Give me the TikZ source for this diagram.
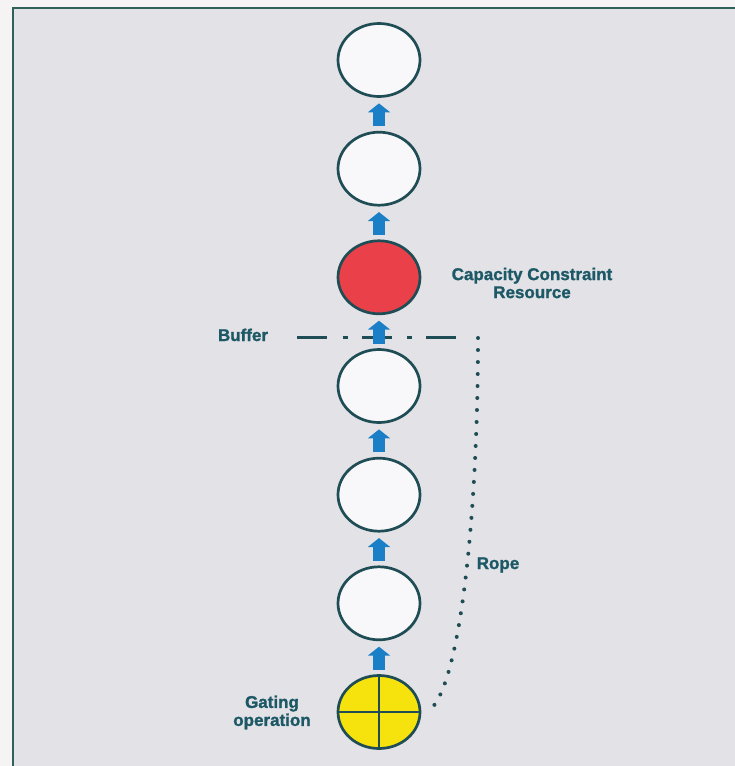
\documentclass[tikz,border=0pt]{standalone}
\usepackage{fontspec}
\setmainfont{Liberation Sans}[BoldFeatures={FakeBold=1.3}]
\usetikzlibrary{arrows.meta,shapes.geometric}
\definecolor{bgout}{HTML}{F6F3F5}
\definecolor{bgin}{HTML}{E3E2E6}
\definecolor{framecol}{HTML}{2E6259}
\definecolor{edgecol}{HTML}{1F4D55}
\definecolor{txtcol}{HTML}{1C5866}
\definecolor{redfill}{HTML}{EA4049}
\definecolor{yellowfill}{HTML}{F6E20C}
\definecolor{bluearrow}{HTML}{1A7FC6}
\definecolor{whitefill}{HTML}{F8F7F9}
\begin{document}
\begin{tikzpicture}[x=1pt,y=-1pt,
  station/.style={ellipse,draw=edgecol,line width=2.7pt,fill=whitefill,
    minimum width=82pt,minimum height=73pt,inner sep=0pt},
  flow/.style={draw=bluearrow,line width=12pt,
    -{Triangle[width=22pt,length=9pt]},shorten <=4.5pt,shorten >=5.5pt},
  lbl/.style={text=txtcol,font=\fontsize{17}{18}\selectfont\bfseries,
    inner sep=0pt,align=center},
  bufferline/.style={draw=edgecol,line width=3pt,
    dash pattern=on 30pt off 15.5pt on 5pt off 14pt},
  ropeline/.style={draw=edgecol,line width=4pt,line cap=round,
    dash pattern=on 0pt off 12pt}]
\useasboundingbox (0,0) rectangle (735,766);
\fill[bgout] (0,0) rectangle (735,766);
\fill[bgin] (13,8) rectangle (735,766);
\draw[framecol,line width=2pt] (13,766) -- (13,8) -- (735,8);

% buffer line (under the arrow)
\coordinate (bufL) at (297,337);
\coordinate (bufR) at (458,337);
\draw[bufferline] (bufL) -- (bufR);

% stations
\node[station] (c1) at (379,60) {};
\node[station] (c2) at (379,168.7) {};
\node[station,fill=redfill] (c3) at (379,277.3) {};
\node[station] (c4) at (379,386) {};
\node[station] (c5) at (379,494.7) {};
\node[station] (c6) at (379,603.3) {};
\node[station,fill=yellowfill] (c7) at (379,712) {};
\draw[edgecol,line width=2.5pt] (c7.north) -- (c7.south) (c7.west) -- (c7.east);

% flow arrows
\draw[flow] (c2.north) -- (c1.south);
\draw[flow] (c3.north) -- (c2.south);
\draw[flow] (c4.north) -- (c3.south);
\draw[flow] (c5.north) -- (c4.south);
\draw[flow] (c6.north) -- (c5.south);
\draw[flow] (c7.north) -- (c6.south);

% rope
\coordinate (ropeTop) at (478,338);
\draw[ropeline] (ropeTop) .. controls (478,500) and (462,690) .. ([xshift=6pt]c7.east);

% labels
\node[lbl] (ccr) at (532,283) {Capacity Constraint\\Resource};
\node[lbl,anchor=base] (buf) at (243,341) {Buffer};
\node[lbl,anchor=base] (rope) at (498,569) {Rope};
\node[lbl] (gate) at (272,712.5) {Gating\\operation};
\end{tikzpicture}
\end{document}
